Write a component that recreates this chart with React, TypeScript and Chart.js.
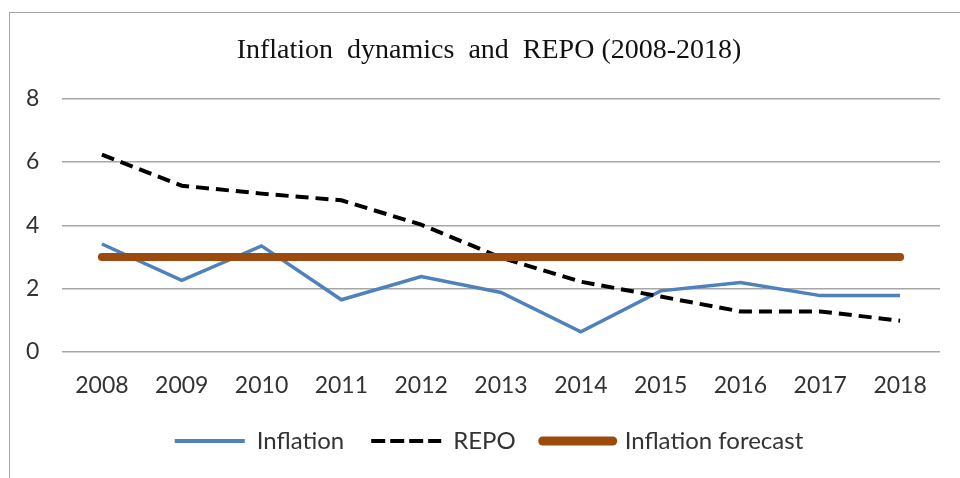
import React, { useEffect, useRef } from "react";
import { Chart, registerables } from "chart.js";

Chart.register(...registerables);

const years = ["2008", "2009", "2010", "2011", "2012", "2013", "2014", "2015", "2016", "2017", "2018"];
const inflation = [3.41, 2.26, 3.35, 1.65, 2.38, 1.88, 0.64, 1.93, 2.19, 1.78, 1.78];
const repo = [6.23, 5.25, 5.0, 4.79, 4.02, 2.98, 2.22, 1.75, 1.28, 1.28, 0.99];
const forecast = [3, 3, 3, 3, 3, 3, 3, 3, 3, 3, 3];
const yTicks = [0, 2, 4, 6, 8];

const legendStyles = [
  { lineDash: [] as number[], lineWidth: 4, lineCap: "butt" },
  { lineDash: [14, 5], lineWidth: 4, lineCap: "butt" },
  { lineDash: [] as number[], lineWidth: 9, lineCap: "round" },
];

export default function App() {
  const ref = useRef<HTMLCanvasElement>(null);
  useEffect(() => {
    document.body.style.margin = "0";
    const ctx = ref.current!;
    const chart = new Chart(ctx, {
      type: "line",
      data: {
        labels: years,
        datasets: [
          {
            label: "Inflation",
            data: inflation,
            borderColor: "#4F81BD",
            backgroundColor: "#4F81BD",
            borderWidth: 3.5,
            pointRadius: 0,
            tension: 0,
            order: 3,
          },
          {
            label: "REPO",
            data: repo,
            borderColor: "#000000",
            backgroundColor: "#000000",
            borderWidth: 4,
            borderDash: [13, 7],
            pointRadius: 0,
            tension: 0,
            order: 2,
          },
          {
            label: "Inflation forecast",
            data: forecast,
            borderColor: "#9C4A0E",
            backgroundColor: "#9C4A0E",
            borderWidth: 8,
            borderCapStyle: "round",
            pointRadius: 0,
            tension: 0,
            order: 1,
          },
        ],
      },
      options: {
        animation: false,
        responsive: false,
        layout: { padding: { left: 38, right: 20, top: 20, bottom: 15 } },
        plugins: {
          title: {
            display: true,
            text: "Inflation  dynamics  and  REPO (2008-2018)",
            font: { family: "'Liberation Serif', 'Times New Roman', serif", size: 28, weight: "normal" },
            color: "#111",
            padding: { top: 14, bottom: 31 },
          },
          legend: {
            position: "bottom",
            labels: {
              usePointStyle: true,
              pointStyle: "line",
              pointStyleWidth: 70,
              padding: 27,
              color: "#333",
              font: { family: "Lato, 'Noto Sans', sans-serif", size: 24 },
              sort: (a: any, b: any) => a.datasetIndex - b.datasetIndex,
              generateLabels: (c: any) => {
                const items = Chart.defaults.plugins.legend.labels.generateLabels(c);
                return items.map((it: any) => ({ ...it, ...legendStyles[it.datasetIndex] }));
              },
            },
          },
          tooltip: { enabled: false },
        },
        scales: {
          x: {
            offset: true,
            afterFit: (scale: any) => {
              scale.height = 50;
            },
            grid: { display: false, drawTicks: false },
            border: { display: false },
            ticks: {
              padding: 20,
              color: "#333",
              font: { family: "Lato, 'Noto Sans', sans-serif", size: 23 },
              maxRotation: 0,
              autoSkip: false,
            },
          },
          y: {
            min: 0,
            max: 8,
            afterFit: (scale: any) => {
              scale.width = 24;
            },
            afterBuildTicks: (scale: any) => {
              scale.ticks = yTicks.map((v) => ({ value: v }));
            },
            grid: { color: "#a6a6a6", lineWidth: 1.5, drawTicks: false },
            border: { display: false },
            ticks: {
              mirror: true,
              padding: -36,
              color: "#333",
              font: { family: "Lato, 'Noto Sans', sans-serif", size: 23 },
            },
          },
        },
      },
    });
    return () => chart.destroy();
  }, []);
  return (
    <div style={{ position: "relative", width: 960, height: 478, background: "#fff" }}>
      <div
        style={{
          position: "absolute",
          left: 9,
          top: 12,
          right: 0,
          bottom: 0,
          borderTop: "1.5px solid #a6a6a6",
          borderLeft: "1.5px solid #a6a6a6",
        }}
      />
      <canvas ref={ref} width={960} height={478} style={{ position: "absolute", left: 0, top: 0 }} />
    </div>
  );
}
